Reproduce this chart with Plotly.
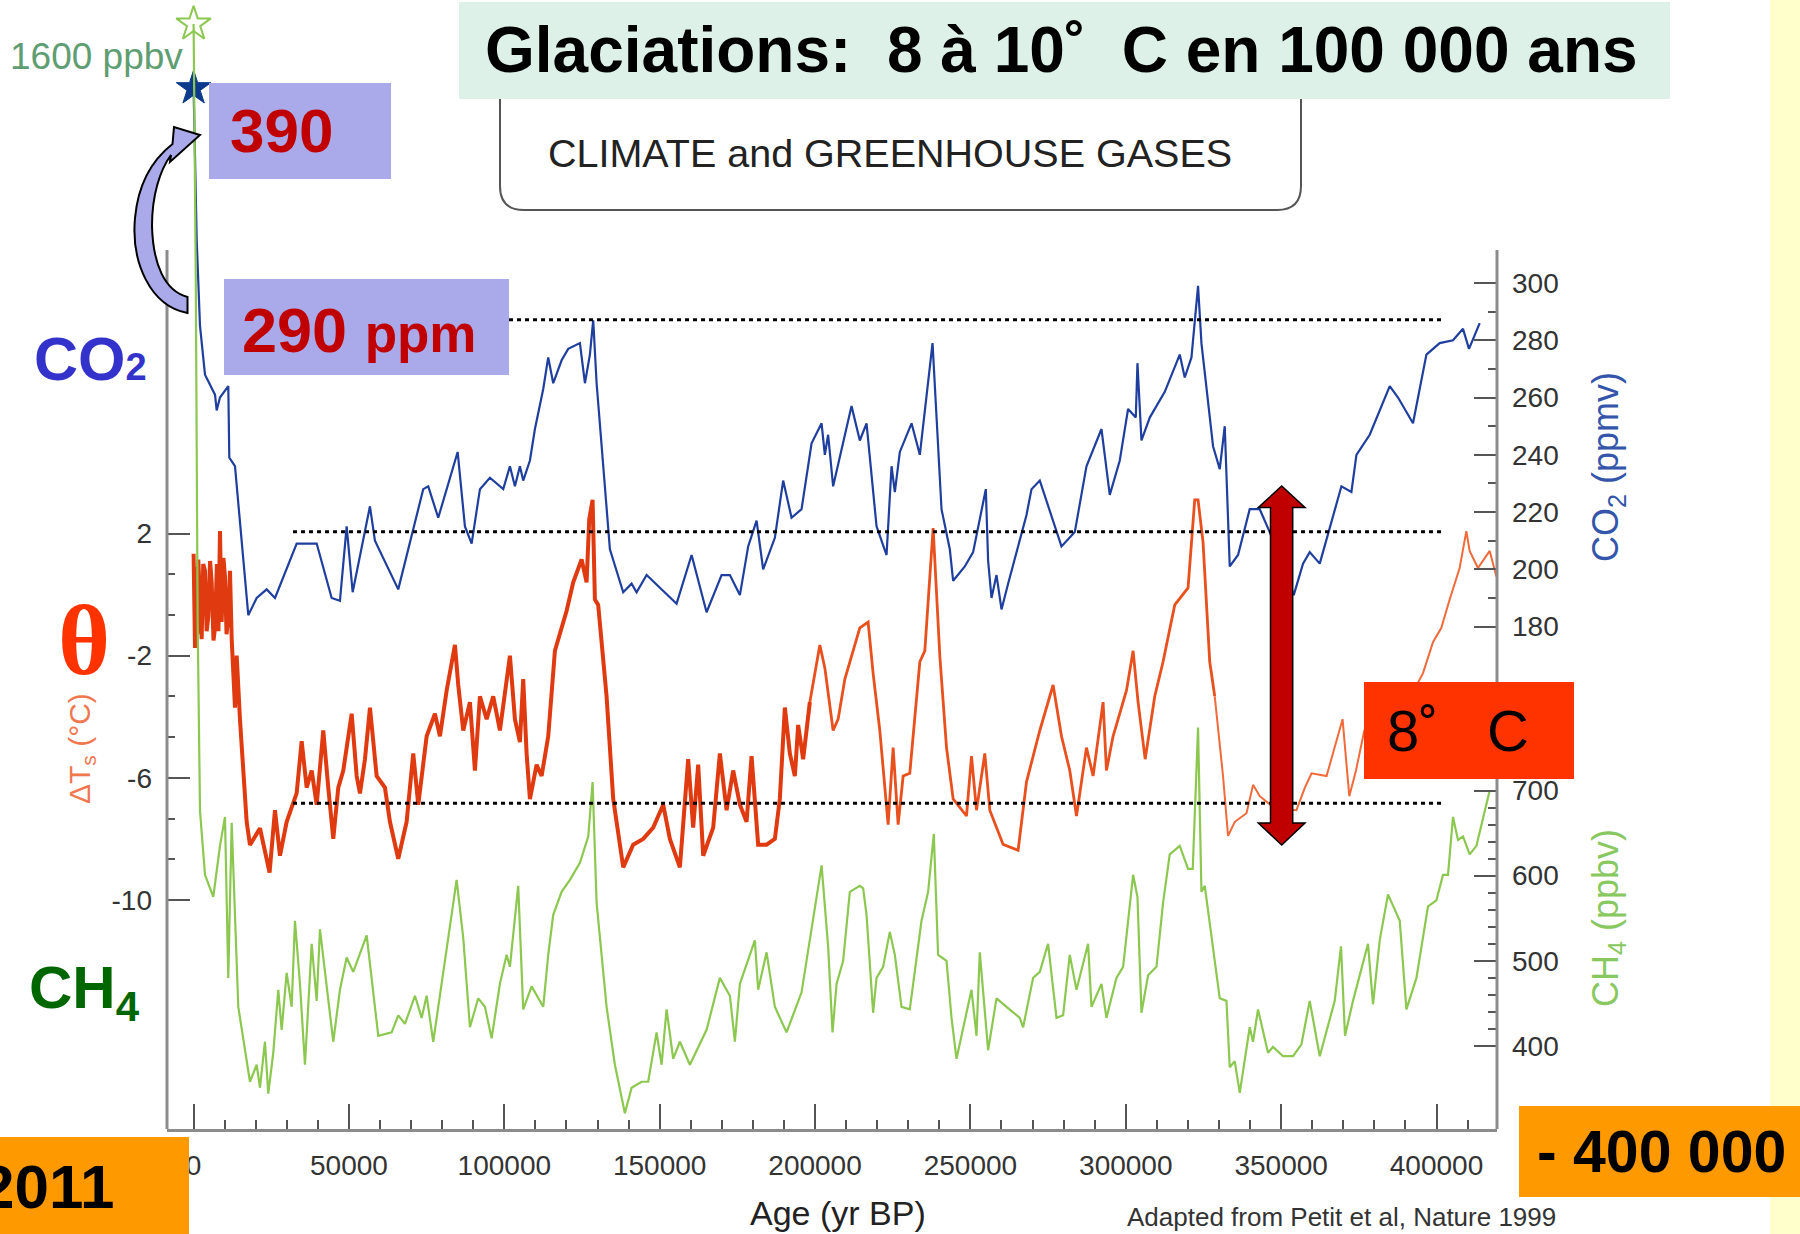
import plotly.graph_objects as go

W, H = 1800, 1234
SANS = "Liberation Sans, Arial, Helvetica, sans-serif"
SERIF = "Liberation Serif, Times New Roman, serif"

# ------------------------------------------------------------------ data
CO2_AGE = [0, 1000, 2060, 3670, 6890, 7430, 8490, 11160, 11490, 13320, 17600, 20300, 23520, 26200,
           33170, 39610, 44430, 47100, 49260, 51190, 56750, 58360, 65860, 73900, 75520, 78730, 84980,
           87320, 89480, 92150, 95370, 99650, 101800, 103410, 105020, 106080, 108240, 109850, 112520,
           114130, 115740, 118440, 120560, 124330, 125940, 127540, 128610, 129700, 133980, 136140,
           138260, 140960, 142570, 145790, 155440, 160270, 165090, 169920, 172590, 175810, 178480,
           181180, 183300, 187070, 189740, 192440, 195660, 198880, 202100, 203150, 204210, 205820,
           207980, 211740, 214410, 216570, 219790, 223010, 224620, 225680, 227290, 231050, 233720,
           237810, 240700, 243370, 244440, 248200, 250870, 254960, 255700, 256790, 258400, 260010,
           262130, 268050, 269660, 272330, 279310, 283590, 287350, 292180, 294850, 298070, 300740,
           303220, 303760, 305050, 307720, 312550, 317370, 318980, 321140, 323260, 324350, 328090,
           330240, 331850, 333460, 336130, 339890, 343110, 346330, 354050, 357050, 359200, 362420,
           369400, 372620, 374230, 378510, 384950, 387620, 392440, 396750, 401030, 405310, 408530,
           410460, 413900]
CO2_PPMV = [368, 315, 285, 268, 261, 255.5, 260, 264, 239, 236, 184, 190, 193, 190,
            209, 209, 190, 189, 215, 192, 222, 210, 193, 228, 229, 218, 241,
            215, 209, 228, 232, 228, 236, 229, 236, 231, 238, 249, 263,
            274, 265, 273, 277, 279, 265, 275, 287, 265, 207, 199,
            192, 195, 192, 198, 188, 205, 185, 198, 198, 191, 208,
            217, 200, 211, 231, 218, 221, 244, 251, 240, 247, 229,
            239, 257, 245, 251, 215, 205, 236, 227, 241, 251, 240,
            279, 221, 207, 196, 201, 206, 228, 203, 190, 198, 186,
            195, 219, 228, 231, 208, 213, 236, 249, 226, 238, 256,
            253, 272, 245, 253, 262, 275, 267, 274, 299, 279, 243,
            235, 250, 201, 205, 221, 221, 213, 191, 202, 206, 202,
            229, 227, 240, 247, 264, 260, 251, 275, 279, 280, 284,
            277, 286]

TEMP_AGE = [0, 250, 450, 900, 1200, 1510, 2000, 2600, 3100, 3670, 4200, 4730, 5300, 5820, 6400,
            6890, 7500, 8000, 8490, 9040, 9600, 10100, 10600, 11160, 11710, 12260,
            13320, 13870, 14930, 17080, 18140, 21360, 24450, 26190, 27800, 29950, 33170, 34780,
            36390, 38000, 39610, 41730, 43340, 44950, 46560, 48170, 50870, 52480, 53540, 55150,
            56760, 58910, 61580, 63190, 65860, 68560, 70690, 72300, 75000, 77670, 79280, 81440,
            84110, 85170, 86780, 88930, 90540, 92150, 94310, 96430, 98580, 100190, 101800, 103410,
            105020, 106080, 107170, 108240, 110390, 112000, 114130, 116280, 118440, 120050, 122170,
            124870, 126480, 127320, 128410, 129150, 130210, 132910, 135040, 138260, 141470, 144690,
            147910, 151130, 153280, 156500, 159170, 160780, 162390, 164000, 167220, 169370, 171530,
            173650, 175810, 177960, 179570, 181690, 184400, 187070, 188670, 190280, 191890, 193500,
            194570, 196170, 198330, 201540, 203150, 205820, 207430, 209590, 213350, 214410, 217080,
            218690, 220840, 223520, 225130, 226740, 228350, 230490, 233720, 235330, 238000, 240160,
            242310, 244440, 248740, 250350, 251960, 254630, 256240, 260520, 265350, 268050, 272330,
            276610, 279310, 281980, 284140, 287350, 289480, 292700, 293780, 295910, 300230, 302360,
            303960, 306240, 309330, 312000, 315760, 320040, 322190, 323260, 324870, 327020, 328630,
            331300, 332910, 335090, 338850, 340980, 343110, 347940, 354920, 357640, 359790, 364620,
            369770, 371930, 374090, 376760, 382730, 388100, 395640, 398860, 401560, 404230, 407450,
            409600, 410670, 413350, 417120, 419270]
TEMP_DC = [1.34, -1.2, -1.75, 0.9, -1.3, 1.15, -0.4, -1.46, 1.0, 0.78, -1.2, -0.71, 1.1, 0.4, -1.5,
           -1.09, 1.0, -1.2, 2.08, -0.9, 1.2, 0.59, -1.3, -0.71, 0.78, -1.46,
           -3.7, -2.0, -4.1, -7.44, -8.2, -7.65, -9.1, -7.06, -8.55, -7.44, -6.5, -4.8,
           -6.32, -5.76, -6.88, -4.45, -6.32, -8.0, -6.32, -5.76, -3.9, -5.94, -6.51, -5.39,
           -3.7, -5.94, -6.32, -7.44, -8.65, -7.44, -5.2, -6.88, -4.64, -3.9, -4.64, -3.14,
           -1.65, -2.96, -4.45, -3.52, -5.76, -3.33, -4.08, -3.33, -4.45, -3.33, -2.0, -4.08,
           -4.83, -2.77, -5.2, -6.7, -5.57, -5.94, -4.64, -1.84, -1.09, -0.53, 0.4,
           1.15, 0.4, 2.46, 3.1, -0.16, -0.34, -3.33, -6.69, -8.93, -8.19, -8.0,
           -7.63, -6.88, -8.0, -8.93, -5.39, -7.63, -5.57, -8.55, -7.63, -5.2, -7.06,
           -5.76, -6.88, -7.44, -5.29, -8.19, -8.19, -8.0, -6.69, -3.7, -5.2, -5.94,
           -4.27, -5.39, -3.52, -1.65, -2.4, -4.45, -4.08, -2.77, -1.46, -1.09, -0.9,
           -2.58, -4.45, -7.53, -5.01, -7.53, -5.94, -5.85, -2.2, -1.84, 2.18, -2.02,
           -5.01, -6.69, -7.25, -5.29, -7.06, -5.2, -7.06, -8.18, -8.37, -6.13, -4.45,
           -2.96, -4.64, -5.76, -7.25, -5.01, -5.94, -3.52, -5.76, -4.64, -3.14, -1.84,
           -3.52, -5.39, -3.33, -2.2, -0.34, 0.22, 3.1, 3.1, 1.71, -2.2, -3.33,
           -5.94, -7.9, -7.44, -7.16, -6.23, -6.6, -7.0, -7.06, -6.32, -5.85, -5.94,
           -4.08, -6.6, -5.76, -4.45, -2.9, -4.0, -2.58, -1.56, -1.09, -0.16, 0.87,
           2.08, 1.43, 0.87, 1.43, 0.59]

CH4_AGE = [0, 700, 1300, 2060, 3670, 6340, 8490, 10100, 11160, 12260, 14380, 18140, 20300, 21360,
           22970, 24030, 25640, 27250, 28340, 29950, 31560, 32620, 34230, 35840, 38000, 39610,
           40670, 44950, 47100, 49260, 51380, 55700, 59430, 63740, 65860, 68020, 71240, 73390,
           75000, 77120, 84650, 86780, 88930, 91600, 93760, 95910, 98580, 100740, 101800, 104470,
           106080, 108780, 112520, 114130, 115740, 118440, 121110, 124330, 127000, 128410, 129700,
           132910, 135580, 138800, 140960, 144170, 146300, 149000, 150610, 152220, 154350, 156500,
           159720, 165090, 169370, 172590, 174200, 175810, 180630, 181690, 184400, 187070, 190830,
           195660, 202100, 204210, 205630, 206920, 209040, 211190, 214410, 215480, 216570, 218690,
           219790, 221910, 224060, 225680, 227830, 230490, 234260, 236390, 238220, 239600, 242310,
           243920, 245530, 247650, 250350, 251960, 253020, 255700, 258400, 261610, 265890, 266960,
           270180, 272330, 275000, 277710, 279830, 281980, 284140, 287870, 288970, 292180, 293780,
           297000, 299150, 302360, 303760, 305050, 307180, 309880, 312000, 314150, 317370, 320040,
           321550, 323260, 324350, 325420, 330240, 332400, 333460, 335070, 336680, 339890, 340950,
           342560, 345780, 347390, 350610, 353830, 356530, 359200, 362420, 367250, 369270, 370560,
           373130, 377960, 379570, 381720, 384390, 388170, 390320, 393540, 397270, 399970, 402090,
           403700, 405310, 406920, 408530, 410670, 412850, 417120]
CH4_PPBV = [1600, 1300, 900, 676, 601, 575, 635, 669, 480, 662, 446, 358, 378, 351,
            405, 344, 392, 466, 419, 486, 446, 547, 473, 378, 520, 453,
            537, 405, 466, 504, 487, 530, 412, 416, 436, 426, 459, 433,
            459, 405, 595, 527, 422, 456, 446, 409, 473, 507, 493, 588,
            443, 470, 446, 507, 554, 581, 595, 615, 646, 710, 568,
            446, 378, 321, 351, 358, 358, 416, 378, 443, 385, 405,
            378, 419, 480, 459, 405, 473, 524, 466, 510, 446, 416,
            463, 612, 517, 416, 473, 500, 581, 588, 585, 554, 439,
            480, 493, 534, 507, 446, 443, 547, 581, 649, 507, 500,
            433, 385, 419, 466, 412, 510, 395, 456, 446, 433, 422,
            480, 487, 520, 433, 436, 507, 466, 520, 446, 473, 433,
            480, 493, 601, 575, 439, 483, 493, 568, 625, 635, 608,
            608, 774, 581, 588, 456, 453, 375, 382, 345, 422, 405,
            443, 392, 399, 388, 388, 402, 453, 388, 453, 517, 412,
            453, 520, 449, 524, 578, 547, 443, 480, 564, 571, 601,
            601, 669, 642, 646, 625, 635, 700]

MODERN_AGE = [0]
MODERN_CO2 = [368]
MODERN_CH4 = [1600]

X_TICKS = [0, 50000, 100000, 150000, 200000, 250000, 300000, 350000, 400000]
X_TICK_LABELS = ["0", "50000", "100000", "150000", "200000", "250000", "300000", "350000", "400000"]
X_MINOR = [v for v in range(10000, 420000, 10000) if v % 50000]
T_TICKS = [2, -2, -6, -10]
T_TICK_LABELS = ["2", "-2", "-6", "-10"]
T_MINOR = [2 / 3, -2 / 3, -10 / 3, -14 / 3, -22 / 3, -26 / 3]
CO2_TICKS = [180, 200, 220, 240, 260, 280, 300]
CO2_MINOR = [190, 210, 230, 250, 270, 290]
CH4_TICKS = [400, 500, 600, 700]
CH4_MINOR = [v for v in range(420, 700, 20) if v % 100]

# reference (dotted) levels
REF_CO2_HIGH = 287.2
REF_T_HIGH = 2.06
REF_T_LOW = -6.83
REF_AGE_START_TOP = 101500
REF_AGE_START = 32000
REF_AGE_END = 402300

# ------------------------------------------------------------------ layout calibration (pixels)
PL, PR, PT, PB = 167, 1497, 250, 1129


def px(x):
    return x / W


def py(y):
    return 1 - y / H


def span(v1, p1, v2, p2, lo, hi):
    k = (v2 - v1) / (p2 - p1)
    return [v1 + (lo - p1) * k, v1 + (hi - p1) * k]


X_RANGE = span(0, 193.6, 400000, 1436.5, PL, PR)
T_RANGE = span(2, 533.5, -10, 900.0, PB, 0)
CO2_RANGE = span(300, 283.0, 180, 626.6, PB, 0)
CH4_RANGE = span(700, 790.5, 400, 1046.0, PB, 0)

fig = go.Figure()

fig.add_trace(go.Scatter(x=CH4_AGE, y=CH4_PPBV, yaxis="y3", mode="lines",
                         line=dict(color="#8CC850", width=2.2), hoverinfo="skip"))

# temperature drawn in three segments (dense dark part, then lighter)
segs = [(0, 200000, "#E03A10", 4.0), (200000, 330000, "#E8501E", 2.8), (330000, 500000, "#F06A3A", 2.0)]
for a0, a1, col, wd in segs:
    xs = [a for a in TEMP_AGE if a0 <= a <= a1]
    ys = [v for a, v in zip(TEMP_AGE, TEMP_DC) if a0 <= a <= a1]
    i0 = TEMP_AGE.index(xs[0])
    if i0 > 0:
        xs = [TEMP_AGE[i0 - 1]] + xs
        ys = [TEMP_DC[i0 - 1]] + ys
    fig.add_trace(go.Scatter(x=xs, y=ys, yaxis="y", mode="lines",
                             line=dict(color=col, width=wd), hoverinfo="skip"))

fig.add_trace(go.Scatter(x=CO2_AGE, y=CO2_PPMV, yaxis="y2", mode="lines",
                         line=dict(color="#1F3F9E", width=2.2), hoverinfo="skip"))

fig.add_trace(go.Scatter(x=MODERN_AGE, y=MODERN_CH4, yaxis="y3", mode="markers",
                         marker=dict(symbol="star-open", size=26, color="#8CC850",
                                     line=dict(color="#8CC850", width=2)), hoverinfo="skip"))
fig.add_trace(go.Scatter(x=MODERN_AGE, y=MODERN_CO2, yaxis="y2", mode="markers",
                         marker=dict(symbol="star", size=26, color="#0D3A8C",
                                     line=dict(color="#0D3A8C", width=1)), hoverinfo="skip"))

tickfont = dict(family=SANS, size=28, color="#333333")
tick_common = dict(ticks="inside", tickwidth=2, tickcolor="#555555", showgrid=False,
                   zeroline=False, tickmode="array", tickfont=tickfont, fixedrange=True)

fig.update_layout(
    width=W, height=H, margin=dict(l=0, r=0, t=0, b=0, autoexpand=False),
    paper_bgcolor="white", plot_bgcolor="rgba(0,0,0,0)", showlegend=False,
    xaxis=dict(domain=[px(PL), px(PR)], range=X_RANGE, anchor="y",
               tickvals=X_TICKS, ticktext=X_TICK_LABELS, ticklen=25,
               minor=dict(tickmode="array", tickvals=X_MINOR, ticks="inside", ticklen=9,
                          tickwidth=2, tickcolor="#555555", showgrid=False),
               showline=True, linecolor="#8C8C8C", linewidth=3, ticklabelstandoff=9,
               **tick_common),
    yaxis=dict(domain=[py(PB), 1], range=T_RANGE, anchor="x", side="left",
               tickvals=T_TICKS, ticktext=T_TICK_LABELS, ticklen=23,
               minor=dict(tickmode="array", tickvals=T_MINOR, ticks="inside", ticklen=8,
                          tickwidth=2, tickcolor="#555555", showgrid=False),
               showline=False, ticklabelstandoff=14, **tick_common),
    yaxis2=dict(overlaying="y", range=CO2_RANGE, anchor="x", side="right",
                tickvals=CO2_TICKS, ticktext=[str(v) for v in CO2_TICKS], ticklen=23,
                minor=dict(tickmode="array", tickvals=CO2_MINOR, ticks="inside", ticklen=9,
                           tickwidth=2, tickcolor="#555555", showgrid=False),
                showline=False, ticklabelstandoff=14, **tick_common),
    yaxis3=dict(overlaying="y", range=CH4_RANGE, anchor="x", side="right",
                tickvals=CH4_TICKS, ticktext=[str(v) for v in CH4_TICKS], ticklen=23,
                minor=dict(tickmode="array", tickvals=CH4_MINOR, ticks="inside", ticklen=9,
                           tickwidth=2, tickcolor="#555555", showgrid=False),
                showline=False, ticklabelstandoff=14, **tick_common),
)


# ------------------------------------------------------------------ shapes
def rect(x0, y0, x1, y1, fill, layer="above", line=None):
    return dict(type="rect", xref="paper", yref="paper", x0=px(x0), x1=px(x1), y0=py(y1), y1=py(y0),
                fillcolor=fill, line=line or dict(width=0), layer=layer)


def path(points_cmds, fill=None, line=None):
    return dict(type="path", xref="paper", yref="paper", path=points_cmds,
                fillcolor=fill or "rgba(0,0,0,0)", line=line or dict(width=0), layer="above")


def P(x, y):
    return f"{px(x):.5f},{py(y):.5f}"


shapes = []
shapes.append(rect(1770, 0, 1800, H, "#FFFFCC", layer="below"))
shapes.append(dict(type="line", xref="paper", yref="paper", x0=px(PL), x1=px(PL), y0=py(PT), y1=py(PB),
                   line=dict(color="#8C8C8C", width=3), layer="above"))
shapes.append(dict(type="line", xref="paper", yref="paper", x0=px(PR), x1=px(PR), y0=py(PT), y1=py(PB),
                   line=dict(color="#8C8C8C", width=3), layer="above"))
dot = dict(color="black", width=3, dash="4px,4px")
shapes.append(dict(type="line", xref="x", yref="y2", x0=REF_AGE_START_TOP, x1=REF_AGE_END,
                   y0=REF_CO2_HIGH, y1=REF_CO2_HIGH, line=dot, layer="above"))
shapes.append(dict(type="line", xref="x", yref="y", x0=REF_AGE_START, x1=REF_AGE_END,
                   y0=REF_T_HIGH, y1=REF_T_HIGH, line=dot, layer="above"))
shapes.append(dict(type="line", xref="x", yref="y", x0=REF_AGE_START, x1=REF_AGE_END,
                   y0=REF_T_LOW, y1=REF_T_LOW, line=dot, layer="above"))
r = 24
shapes.append(path(f"M {P(500,99)} L {P(500,210-r)} Q {P(500,210)} {P(500+r,210)} "
                   f"L {P(1301-r,210)} Q {P(1301,210)} {P(1301,210-r)} L {P(1301,99)}",
                   line=dict(color="#555555", width=2)))
shapes.append(rect(459, 2, 1670, 99, "#DDF1E8"))
shapes.append(rect(209, 83, 391, 179, "#AAAAEB"))
shapes.append(rect(224, 279, 509, 375, "#AAAAEB"))
shapes.append(rect(0, 1137, 189, H, "#FF9900"))
shapes.append(rect(1519, 1106, 1800, 1197, "#FF9900"))
shapes.append(rect(1364, 682, 1574, 779, "#FF3300"))
shapes.append(path(
    f"M {P(187.5,313)} C {P(150,306)} {P(131,262)} {P(135,218)} C {P(138,185)} {P(152,160)} {P(172.5,144)} "
    f"L {P(174,127)} L {P(200,135)} L {P(170,162)} L {P(171,155)} "
    f"C {P(160,170)} {P(152,195)} {P(152,226)} C {P(153,265)} {P(165,291)} {P(187.5,297)} Z",
    fill="#AAAAEB", line=dict(color="black", width=2)))
shapes.append(path(
    f"M {P(1281.7,486)} L {P(1305,507.5)} L {P(1292.7,507.5)} L {P(1292.7,823)} L {P(1305,823)} "
    f"L {P(1281.7,845)} L {P(1258.3,823)} L {P(1270.5,823)} L {P(1270.5,507.5)} L {P(1258.3,507.5)} Z",
    fill="#C00000", line=dict(color="black", width=1.5)))


# ------------------------------------------------------------------ annotations
def ann(text, x, y, size, color="black", xanchor="center", family=SANS, angle=0):
    return dict(text=text, x=px(x), y=py(y), xref="paper", yref="paper", showarrow=False,
                xanchor=xanchor, yanchor="middle", textangle=angle,
                font=dict(family=family, size=size, color=color))


NB = "\u00a0"
anns = [
    ann(f"<b>Glaciations:{NB} 8 à 10˚{NB} C en 100 000 ans</b>", 1061, 50, 64),
    ann("CLIMATE and GREENHOUSE GASES", 890, 153, 39.5, color="#222222"),
    ann("1600 ppbv", 8, 57, 37, color="#5E9E72", xanchor="left"),
    ann("<b>390</b>", 228, 131, 62, color="#C00000", xanchor="left"),
    ann("<b>290 <span style='font-size:53px'>ppm</span></b>", 240, 330, 63, color="#C00000", xanchor="left"),
    ann("<b>CO<span style='font-size:38px'>2</span></b>", 32, 359, 61, color="#3333CC", xanchor="left"),
    ann("<b>θ</b>", 84, 640, 100, color="#FF3300", family=SERIF),
    ann("ΔT<sub>s</sub> (°C)", 81, 749, 30, color="#F07850", angle=-90),
    ann("<b>CH<sub>4</sub></b>", 27, 992, 60, color="#006600", xanchor="left"),
    ann("<b>2011</b>", 117, 1186, 62, xanchor="right"),
    ann("<b>- 400 000</b>", 1661, 1152, 59),
    ann(f"8˚{NB}{NB} C", 1385, 730, 58, xanchor="left"),
    ann("Age (yr BP)", 838, 1213, 34, color="#222222"),
    ann("Adapted from Petit et al, Nature 1999", 1125, 1217, 26, color="#333333", xanchor="left"),
    ann("CO<sub>2</sub> (ppmv)", 1608, 467, 36, color="#3355AA", angle=-90),
    ann("CH<sub>4</sub> (ppbv)", 1608, 918, 36, color="#88C860", angle=-90),
]

fig.update_layout(shapes=shapes, annotations=anns)
fig.write_html("out.html")
